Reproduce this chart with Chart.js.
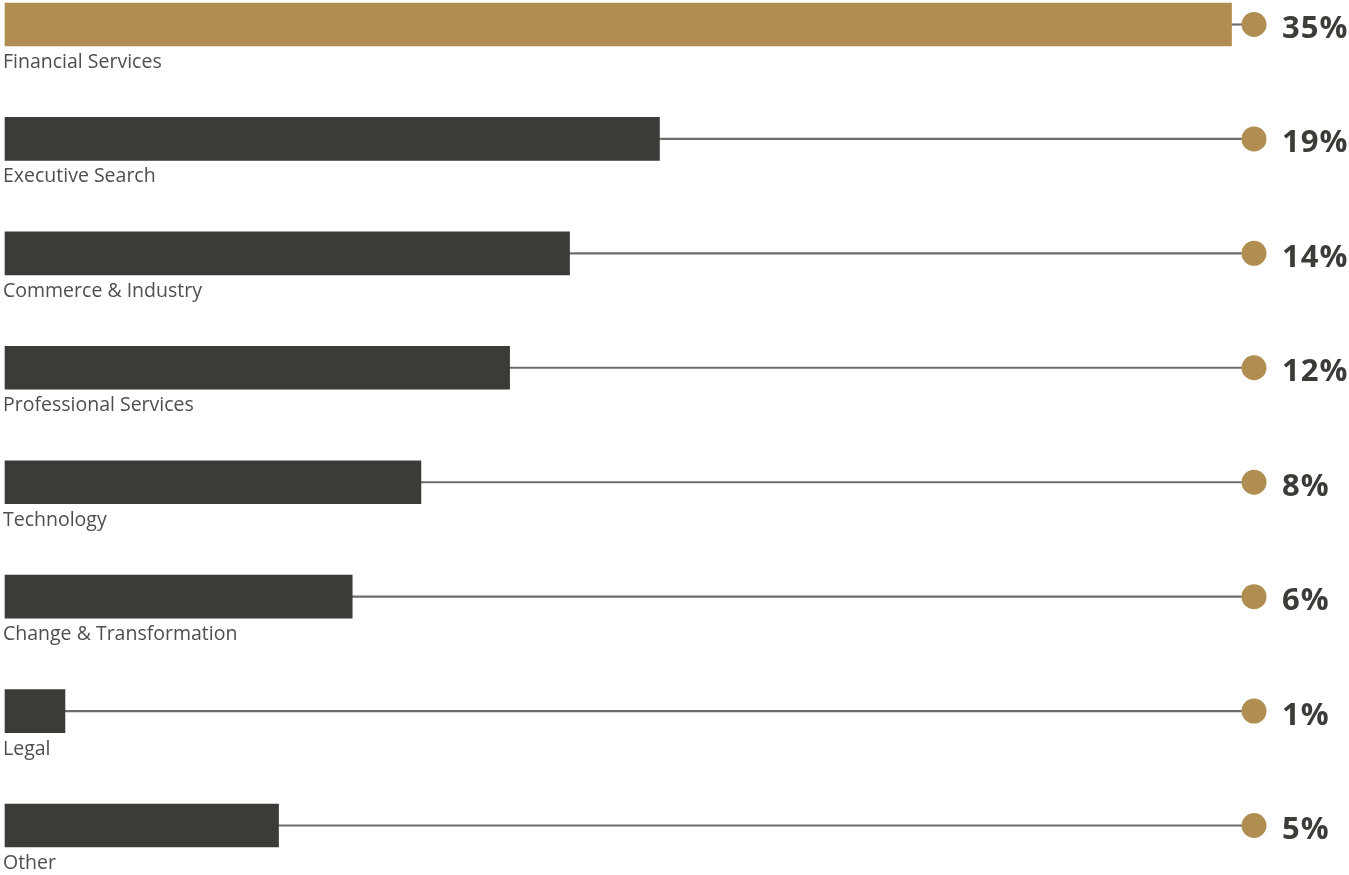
<!DOCTYPE html>
<html>
<head>
  <title>Sector split</title>
  <style>
    html, body { margin: 0; padding: 0; background: #fff; }
    #wrap { width: 1349px; height: 875px; }
  </style>
  <script src="https://cdn.jsdelivr.net/npm/chart.js"></script>
</head>
<body>
  <div id="wrap"><canvas id="chart"></canvas></div>

  <script>
    const categories = ['Financial Services', 'Executive Search', 'Commerce & Industry', 'Professional Services',
      'Technology', 'Change & Transformation', 'Legal', 'Other'];
    const shares = [35, 19, 14, 12, 8, 6, 1, 5];
    // drawn bar lengths on a 0-100 track (the dot sits at 100)
    const barLengths = [98.2, 52.4, 45.2, 40.4, 33.3, 27.8, 4.8, 21.9];
    const dotPos = 100;

    const GOLD = '#b08d51';
    const DARK = '#3d3b38';

    const labelsPlugin = {
      id: 'rowLabels',
      afterDatasetsDraw(chart) {
        const ctx = chart.ctx;
        const x = chart.scales.x;
        const y = chart.scales.y;
        ctx.save();
        categories.forEach((name, i) => {
          const cy = y.getPixelForValue(i);
          ctx.fillStyle = '#4f4e4c';
          ctx.font = '19.5px "Open Sans", sans-serif';
          ctx.textAlign = 'left';
          ctx.textBaseline = 'alphabetic';
          ctx.fillText(name, 3, cy + 43.5);

          ctx.fillStyle = DARK;
          ctx.font = 'bold 31px "Open Sans", sans-serif';
          ctx.letterSpacing = '1px';
          ctx.fillText(shares[i] + '%', x.getPixelForValue(dotPos) + 28, cy + 13.5);
          ctx.letterSpacing = '0px';
        });
        ctx.restore();
      }
    };

    new Chart(document.getElementById('chart'), {
      data: {
        labels: categories,
        datasets: [
          {
            type: 'line',
            data: categories.map((c, i) => ({ x: dotPos, y: i })),
            showLine: false,
            pointRadius: 12.5,
            pointHoverRadius: 12.5,
            pointBackgroundColor: GOLD,
            pointBorderWidth: 0,
            clip: false,
          },
          {
            type: 'bar',
            data: barLengths,
            backgroundColor: barLengths.map((v, i) => i === 0 ? GOLD : DARK),
            barThickness: 43,
            grouped: false,
            clip: false,
          },
          {
            type: 'bar',
            data: barLengths.map(v => [v, dotPos]),
            backgroundColor: '#6e6d6b',
            barThickness: 1.5,
            grouped: false,
            clip: false,
          },
        ],
      },
      options: {
        indexAxis: 'y',
        responsive: true,
        maintainAspectRatio: false,
        animation: false,
        layout: { autoPadding: false, padding: { left: 5, right: 95, top: 24.5, bottom: 49.5 } },
        plugins: { legend: { display: false }, tooltip: { enabled: false } },
        scales: {
          x: { type: 'linear', min: 0, max: dotPos, display: false },
          y: { type: 'category', offset: false, display: false },
        },
      },
      plugins: [labelsPlugin],
    });
  </script>
</body>
</html>
